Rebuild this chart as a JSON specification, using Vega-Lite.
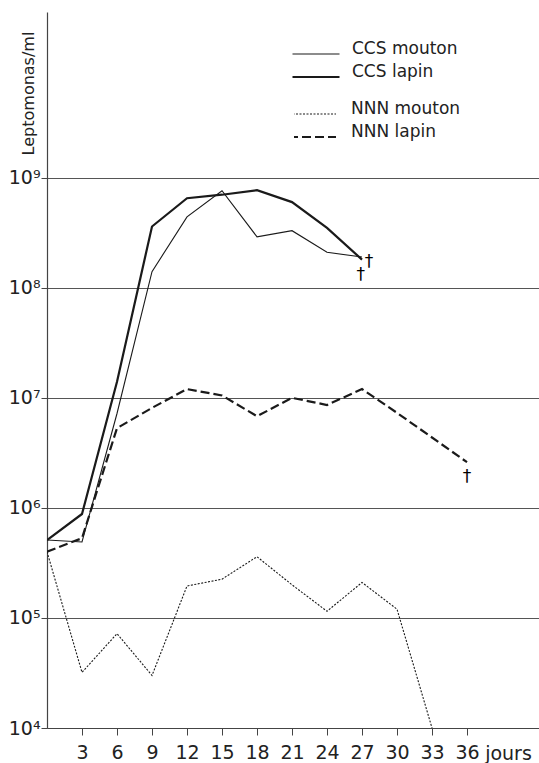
{
  "$schema": "https://vega.github.io/schema/vega-lite/v6.json",
  "width": 492,
  "height": 716,
  "autosize": "none",
  "padding": {"left": 47, "top": 12, "right": 0, "bottom": 35},
  "background": "white",
  "config": {
    "view": {"stroke": null},
    "font": "DejaVu Sans",
    "axis": {"labelFont": "DejaVu Sans", "titleFont": "DejaVu Sans", "labelColor": "#222", "titleColor": "#222", "domainColor": "#444", "tickColor": "#444"}
  },
  "datasets": {
    "series": [
      {"day": 0, "value": 510000, "series": "CCS mouton"},
      {"day": 3, "value": 490000, "series": "CCS mouton"},
      {"day": 6, "value": 7200000, "series": "CCS mouton"},
      {"day": 9, "value": 140000000, "series": "CCS mouton"},
      {"day": 12, "value": 440000000, "series": "CCS mouton"},
      {"day": 15, "value": 760000000, "series": "CCS mouton"},
      {"day": 18, "value": 290000000, "series": "CCS mouton"},
      {"day": 21, "value": 330000000, "series": "CCS mouton"},
      {"day": 24, "value": 210000000, "series": "CCS mouton"},
      {"day": 27, "value": 190000000, "series": "CCS mouton"},
      {"day": 0, "value": 510000, "series": "CCS lapin"},
      {"day": 3, "value": 880000, "series": "CCS lapin"},
      {"day": 6, "value": 14000000, "series": "CCS lapin"},
      {"day": 9, "value": 360000000, "series": "CCS lapin"},
      {"day": 12, "value": 650000000, "series": "CCS lapin"},
      {"day": 15, "value": 700000000, "series": "CCS lapin"},
      {"day": 18, "value": 770000000, "series": "CCS lapin"},
      {"day": 21, "value": 600000000, "series": "CCS lapin"},
      {"day": 24, "value": 350000000, "series": "CCS lapin"},
      {"day": 27, "value": 180000000, "series": "CCS lapin"},
      {"day": 0, "value": 400000, "series": "NNN mouton"},
      {"day": 3, "value": 32000, "series": "NNN mouton"},
      {"day": 6, "value": 72000, "series": "NNN mouton"},
      {"day": 9, "value": 30000, "series": "NNN mouton"},
      {"day": 12, "value": 195000, "series": "NNN mouton"},
      {"day": 15, "value": 225000, "series": "NNN mouton"},
      {"day": 18, "value": 360000, "series": "NNN mouton"},
      {"day": 21, "value": 200000, "series": "NNN mouton"},
      {"day": 24, "value": 115000, "series": "NNN mouton"},
      {"day": 27, "value": 210000, "series": "NNN mouton"},
      {"day": 30, "value": 120000, "series": "NNN mouton"},
      {"day": 33, "value": 10000, "series": "NNN mouton"},
      {"day": 0, "value": 400000, "series": "NNN lapin"},
      {"day": 3, "value": 530000, "series": "NNN lapin"},
      {"day": 6, "value": 5300000, "series": "NNN lapin"},
      {"day": 9, "value": 8100000, "series": "NNN lapin"},
      {"day": 12, "value": 12000000, "series": "NNN lapin"},
      {"day": 15, "value": 10500000, "series": "NNN lapin"},
      {"day": 18, "value": 6800000, "series": "NNN lapin"},
      {"day": 21, "value": 10000000, "series": "NNN lapin"},
      {"day": 24, "value": 8600000, "series": "NNN lapin"},
      {"day": 27, "value": 12000000, "series": "NNN lapin"},
      {"day": 30, "value": 7300000, "series": "NNN lapin"},
      {"day": 36, "value": 2600000, "series": "NNN lapin"}
    ],
    "daggers": [
      {"day": 26.9, "value": 130000000, "label": "†"},
      {"day": 27.6, "value": 170000000, "label": "†"},
      {"day": 36, "value": 1900000, "label": "†"}
    ]
  },
  "layer": [
    {
      "data": {"name": "series"},
      "transform": [{"filter": "indexof(datum.series, 'CCS') == 0"}],
      "mark": {"type": "line", "color": "#1a1a1a", "clip": true},
      "encoding": {
        "x": {
          "field": "day", "type": "quantitative",
          "scale": {"domain": [0, 42.17], "nice": false, "zero": false},
          "axis": {
            "values": [3, 6, 9, 12, 15, 18, 21, 24, 27, 30, 33, 36],
            "grid": false, "tickSize": 7, "labelFontSize": 19, "labelPadding": 8,
            "labelColor": "#222", "domainWidth": 1.2,
            "title": "jours", "titleFontSize": 19, "titleFontWeight": "normal",
            "titleX": 461, "titleY": 31, "titleAlign": "center", "titleBaseline": "alphabetic"
          }
        },
        "y": {
          "field": "value", "type": "quantitative",
          "scale": {"type": "log", "domain": [10000, 32000000000], "nice": false},
          "axis": {
            "values": [10000, 100000, 1000000, 10000000, 100000000, 1000000000],
            "grid": true, "gridColor": "#555", "gridWidth": 1, "gridOpacity": 1,
            "tickSize": 6, "labelFontSize": 19, "labelPadding": 1, "domainWidth": 1.2,
            "labelExpr": "datum.value == 10000 ? '10⁴' : datum.value == 100000 ? '10⁵' : datum.value == 1000000 ? '10⁶' : datum.value == 10000000 ? '10⁷' : datum.value == 100000000 ? '10⁸' : '10⁹'",
            "title": "Leptomonas/ml", "titleFontSize": 16, "titleFontWeight": "normal",
            "titleX": -19, "titleY": 81, "titleAlign": "center", "titleBaseline": "middle", "titleAngle": -90
          }
        },
        "strokeWidth": {
          "field": "series", "type": "nominal",
          "scale": {"domain": ["CCS mouton", "CCS lapin"], "range": [1.1, 2.2]},
          "legend": {
            "title": null, "orient": "none", "legendX": 234, "legendY": 33,
            "symbolType": "M-1,0H1", "symbolSize": 2209, "symbolStrokeColor": "#1a1a1a",
            "symbolOffset": 10,
            "labelFontSize": 17, "labelColor": "#222", "labelBaseline": "alphabetic", "labelOffset": 11,
            "clipHeight": 18, "rowPadding": 0, "padding": 0
          }
        },
        "detail": {"field": "series"}
      }
    },
    {
      "data": {"name": "series"},
      "transform": [{"filter": "indexof(datum.series, 'NNN') == 0"}],
      "mark": {"type": "line", "color": "#1a1a1a", "clip": true, "strokeWidth": {"expr": "datum.series == 'NNN lapin' ? 2.2 : 1.1"}},
      "encoding": {
        "x": {"field": "day", "type": "quantitative"},
        "y": {"field": "value", "type": "quantitative"},
        "strokeDash": {
          "field": "series", "type": "nominal",
          "scale": {"domain": ["NNN mouton", "NNN lapin"], "range": [[2, 1.5], [9, 4]]},
          "legend": {
            "title": null, "orient": "none", "legendX": 247, "legendY": 93,
            "symbolType": "M-1,0H1", "symbolSize": 2209, "symbolStrokeColor": "#1a1a1a",
            "symbolOffset": 10,
            "labelFontSize": 17, "labelColor": "#222", "labelBaseline": "alphabetic", "labelOffset": 30,
            "clipHeight": 18, "rowPadding": 0, "padding": 0,
            "encode": {"symbols": {"update": {"strokeWidth": {"signal": "datum.value == 'NNN lapin' ? 2.2 : 1.1"}}}}
          }
        }
      }
    },
    {
      "data": {"name": "daggers"},
      "mark": {"type": "text", "fontSize": 17, "fill": "#000000", "baseline": "middle", "align": "center"},
      "encoding": {
        "x": {"field": "day", "type": "quantitative"},
        "y": {"field": "value", "type": "quantitative"},
        "text": {"field": "label"}
      }
    }
  ]
}
